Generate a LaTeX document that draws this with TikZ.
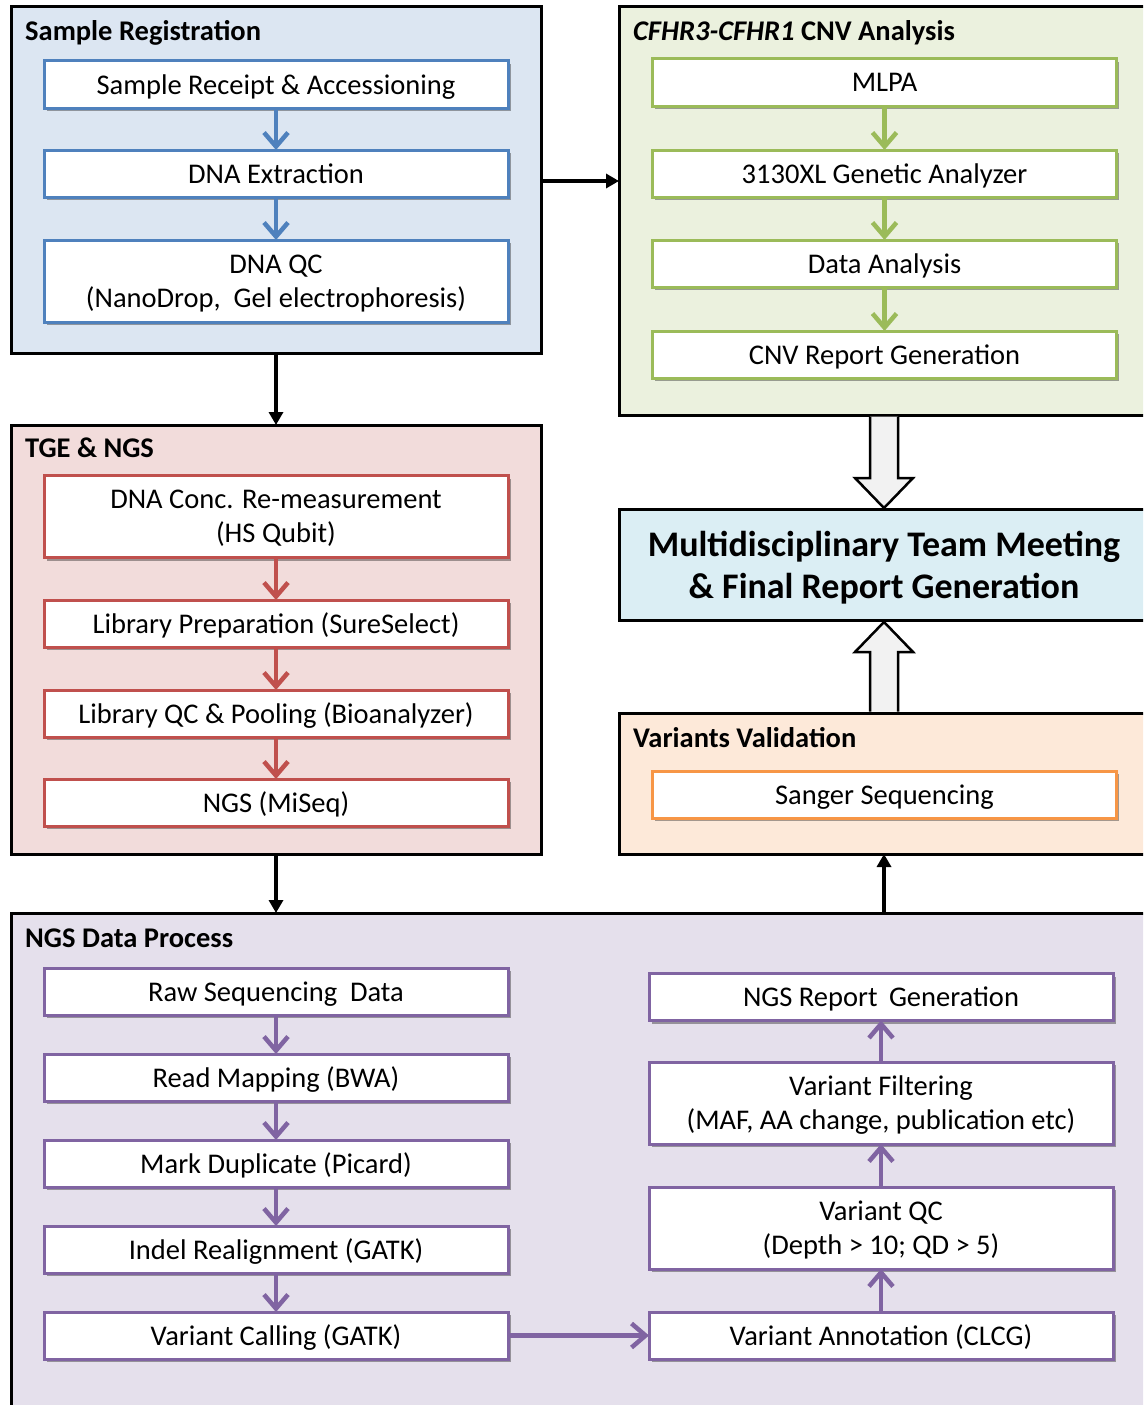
\documentclass[tikz,border=0pt]{standalone}
\usepackage{fontspec}
\setmainfont{Carlito}
\usetikzlibrary{arrows.meta,shadows,calc}
\definecolor{srfill}{HTML}{DCE6F2}
\definecolor{srline}{HTML}{4F81BD}
\definecolor{cnvfill}{HTML}{EBF1DE}
\definecolor{cnvline}{HTML}{9BBB59}
\definecolor{tgefill}{HTML}{F2DCDB}
\definecolor{tgeline}{HTML}{C0504D}
\definecolor{ngsfill}{HTML}{E5E0EC}
\definecolor{ngsline}{HTML}{8064A2}
\definecolor{vvfill}{HTML}{FDE9D9}
\definecolor{vvline}{HTML}{F79646}
\definecolor{mdtfill}{HTML}{DBEEF4}
\definecolor{arrowgray}{HTML}{F2F2F2}
\newcommand\boxfont{\fontsize{28.5}{34}\selectfont}
\newcommand\titlefont{\fontsize{28.5}{34}\selectfont\bfseries}
\newcommand\mdtfont{\fontsize{36}{42}\selectfont\bfseries}
\begin{document}
\begin{tikzpicture}[x=1pt,y=-1pt,
 cont/.style={draw=black, line width=3pt, anchor=north west, inner sep=0pt, outer sep=0pt},
 ibox/.style={fill=white, draw=#1, line width=3pt, minimum width=464pt, minimum height=47pt,
   inner sep=0pt, outer sep=0pt, align=center, font=\boxfont, text depth=0pt,
   drop shadow={shadow xshift=2.5pt, shadow yshift=-3pt, opacity=0.35, fill=black}},
 tall/.style={minimum height=82pt},
 ttl/.style={anchor=base west, font=\titlefont, inner sep=0pt},
 iarr/.style={draw=#1, line width=4.5pt, -{Straight Barb[length=14pt,width=24pt]}},
 barr/.style={draw=black, line width=4pt, -{Triangle[length=13pt,width=14pt]}},
 block/.style={draw=black, line width=2.5pt, fill=arrowgray, line join=miter}
]
\useasboundingbox (0,0) rectangle (1143,1405);
\clip (0,0) rectangle (1143,1405);
\fill[white] (0,0) rectangle (1143,1405);

% containers
\node[cont, fill=srfill, minimum width=530pt, minimum height=346pt] (sr) at (11,7) {};
\node[cont, fill=cnvfill, minimum width=530pt, minimum height=408pt] (cnv) at (619,7) {};
\node[cont, fill=tgefill, minimum width=530pt, minimum height=429pt] (tge) at (11,425) {};
\node[cont, fill=mdtfill, minimum width=530pt, minimum height=111pt, font=\mdtfont, align=center, text depth=0pt] (mdt) at (619,509) {Multidisciplinary Team Meeting\\\& Final Report Generation};
\node[cont, fill=vvfill, minimum width=530pt, minimum height=141pt] (vv) at (619,713) {};
\node[cont, fill=ngsfill, minimum width=1138pt, minimum height=520pt] (ngs) at (11,913) {};

% titles
\node[ttl] (srt) at (25,41) {Sample Registration};
\node[ttl] (cnvt) at (633,41) {\textit{CFHR3-CFHR1} CNV Analysis};
\node[ttl] (tget) at (25,457) {TGE \& NGS};
\node[ttl] (vvt) at (633,747) {Variants Validation};
\node[ttl] (ngst) at (25,947) {NGS Data Process};

% sample registration
\node[ibox=srline] (s1) at (276,84.5) {Sample Receipt \& Accessioning};
\node[ibox=srline] (s2) at (276,173.5) {DNA Extraction};
\node[ibox=srline, tall] (s3) at (276,281) {DNA QC\\(NanoDrop,\ \ Gel electrophoresis)};
\draw[iarr=srline] (s1.south) -- (s2.north);
\draw[iarr=srline] (s2.south) -- (s3.north);

% CNV
\node[ibox=cnvline] (c1) at (884.5,82.5) {MLPA};
\node[ibox=cnvline] (c2) at (884.5,173.5) {3130XL Genetic Analyzer};
\node[ibox=cnvline] (c3) at (884.5,263.5) {Data Analysis};
\node[ibox=cnvline] (c4) at (884.5,354.5) {CNV Report Generation};
\draw[iarr=cnvline] (c1.south) -- (c2.north);
\draw[iarr=cnvline] (c2.south) -- (c3.north);
\draw[iarr=cnvline] (c3.south) -- (c4.north);

% TGE & NGS
\node[ibox=tgeline, tall] (t1) at (276,516.5) {DNA Conc. Re-measurement\\(HS Qubit)};
\node[ibox=tgeline] (t2) at (276,623.5) {Library Preparation (SureSelect)};
\node[ibox=tgeline] (t3) at (276,713.5) {Library QC \& Pooling (Bioanalyzer)};
\node[ibox=tgeline] (t4) at (276,802.5) {NGS (MiSeq)};
\draw[iarr=tgeline] (t1.south) -- (t2.north);
\draw[iarr=tgeline] (t2.south) -- (t3.north);
\draw[iarr=tgeline] (t3.south) -- (t4.north);

% Variants validation
\node[ibox=vvline] (v1) at (884.5,794.5) {Sanger Sequencing};

% NGS data process
\node[ibox=ngsline] (n1) at (276,991.5) {Raw Sequencing\hspace{0.45em}Data};
\node[ibox=ngsline] (n2) at (276,1077.5) {Read Mapping (BWA)};
\node[ibox=ngsline] (n3) at (276,1163.5) {Mark Duplicate (Picard)};
\node[ibox=ngsline] (n4) at (276,1249.5) {Indel Realignment (GATK)};
\node[ibox=ngsline] (n5) at (276,1335.5) {Variant Calling (GATK)};
\node[ibox=ngsline] (r1) at (881,997) {NGS Report\hspace{0.4em}Generation};
\node[ibox=ngsline, tall] (r2) at (881,1103) {Variant Filtering\\(MAF, AA change, publication etc)};
\node[ibox=ngsline, tall] (r3) at (881,1228) {Variant QC\\(Depth \textgreater\ 10; QD \textgreater\ 5)};
\node[ibox=ngsline] (r4) at (881,1335.5) {Variant Annotation (CLCG)};
\draw[iarr=ngsline] (n1.south) -- (n2.north);
\draw[iarr=ngsline] (n2.south) -- (n3.north);
\draw[iarr=ngsline] (n3.south) -- (n4.north);
\draw[iarr=ngsline] (n4.south) -- (n5.north);
\draw[iarr=ngsline] (n5.east) -- (r4.west);
\draw[iarr=ngsline] (r4.north) -- (r3.south);
\draw[iarr=ngsline] (r3.north) -- (r2.south);
\draw[iarr=ngsline] (r2.north) -- (r1.south);

% black connectors
\coordinate (sre) at ($(sr.east)+(0,1)$);
\draw[barr] (sre) -- (sre -| cnv.west);
\draw[barr] (sr.south) -- (tge.north);
\draw[barr] (tge.south) -- (tge.south |- ngs.north);
\draw[barr] (vv.south |- ngs.north) -- (vv.south);

% block arrows
\draw[block] ($(cnv.south)+(-14,1.5)$) -- ($(mdt.north)+(-14,-31)$) -- ($(mdt.north)+(-29,-31)$)
  -- ($(mdt.north)+(0,-1)$) -- ($(mdt.north)+(29,-31)$) -- ($(mdt.north)+(14,-31)$) -- ($(cnv.south)+(14,1.5)$);
\draw[block] ($(vv.north)+(-14,-1.5)$) -- ($(mdt.south)+(-14,32)$) -- ($(mdt.south)+(-29,32)$)
  -- ($(mdt.south)+(0,2)$) -- ($(mdt.south)+(29,32)$) -- ($(mdt.south)+(14,32)$) -- ($(vv.north)+(14,-1.5)$);
\end{tikzpicture}
\end{document}
